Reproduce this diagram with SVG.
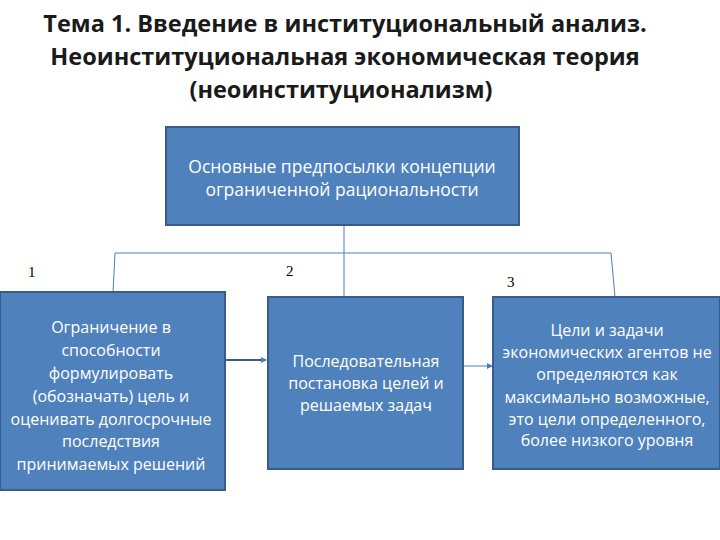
<svg xmlns="http://www.w3.org/2000/svg" width="720" height="540" viewBox="0 0 720 540">
<defs>
<style>
.title{font-family:"Open Sans","Liberation Sans",sans-serif;font-weight:bold;font-size:23.5px;fill:#1a1a1a;text-anchor:middle}
.box{fill:#4F81BD;stroke:#385D8A;stroke-width:2}
.bt{font-family:"Open Sans","Liberation Sans",sans-serif;font-size:16px;fill:#ffffff;text-anchor:middle}
.bt2{font-family:"Open Sans","Liberation Sans",sans-serif;font-size:17.5px;fill:#ffffff;text-anchor:middle}
.num{font-family:"Liberation Serif",serif;font-size:15px;fill:#000}
.ln{stroke:#4A7EBB;stroke-width:1;fill:none}
</style>
<marker id="ah" markerWidth="6" markerHeight="6" refX="5" refY="3" orient="auto" markerUnits="userSpaceOnUse">
<path d="M0,0 L6,3 L0,6 z" fill="#4A7EBB"/>
</marker>
</defs>
<rect width="720" height="540" fill="#ffffff"/>
<g id="title">
<text class="title" x="345" y="32">Тема 1. Введение в институциональный анализ.</text>
<text class="title" x="345" y="65">Неоинституциональная экономическая теория</text>
<text class="title" x="341" y="98">(неоинституционализм)</text>
</g>
<g id="connectors">
<line class="ln" x1="344" y1="225" x2="344" y2="297"/>
<line class="ln" x1="115" y1="253" x2="611" y2="253"/>
<line class="ln" x1="115" y1="253" x2="113" y2="292"/>
<line class="ln" x1="611" y1="253" x2="615" y2="297"/>
<line x1="225" y1="360" x2="266" y2="360" stroke="#385D8A" stroke-width="2" marker-end="url(#ah)"/>
<line class="ln" x1="463" y1="366" x2="492" y2="366" marker-end="url(#ah)"/>
</g>
<g id="labels">
<text class="num" x="28" y="277">1</text>
<text class="num" x="286" y="276">2</text>
<text class="num" x="507" y="287">3</text>
</g>
<g id="top">
<rect class="box" x="166" y="127" width="353" height="98"/>
<text class="bt2" x="342" y="173">Основные предпосылки концепции</text>
<text class="bt2" x="342" y="196">ограниченной рациональности</text>
</g>
<g id="left">
<rect class="box" x="0" y="292" width="225" height="198"/>
<text class="bt" x="111" y="333">Ограничение в</text>
<text class="bt" x="111" y="356">способности</text>
<text class="bt" x="111" y="379">формулировать</text>
<text class="bt" x="111" y="402">(обозначать) цель и</text>
<text class="bt" x="111" y="425">оценивать долгосрочные</text>
<text class="bt" x="111" y="447">последствия</text>
<text class="bt" x="111" y="470">принимаемых решений</text>
</g>
<g id="middle">
<rect class="box" x="268" y="297" width="195" height="172"/>
<text class="bt" x="366" y="367">Последовательная</text>
<text class="bt" x="366" y="389">постановка целей и</text>
<text class="bt" x="366" y="411">решаемых задач</text>
</g>
<g id="right">
<rect class="box" x="493" y="297" width="227" height="172"/>
<text class="bt" x="607" y="336">Цели и задачи</text>
<text class="bt" x="607" y="358">экономических агентов не</text>
<text class="bt" x="607" y="380">определяются как</text>
<text class="bt" x="607" y="403">максимально возможные,</text>
<text class="bt" x="607" y="425">это цели определенного,</text>
<text class="bt" x="607" y="446">более низкого уровня</text>
</g>
</svg>
